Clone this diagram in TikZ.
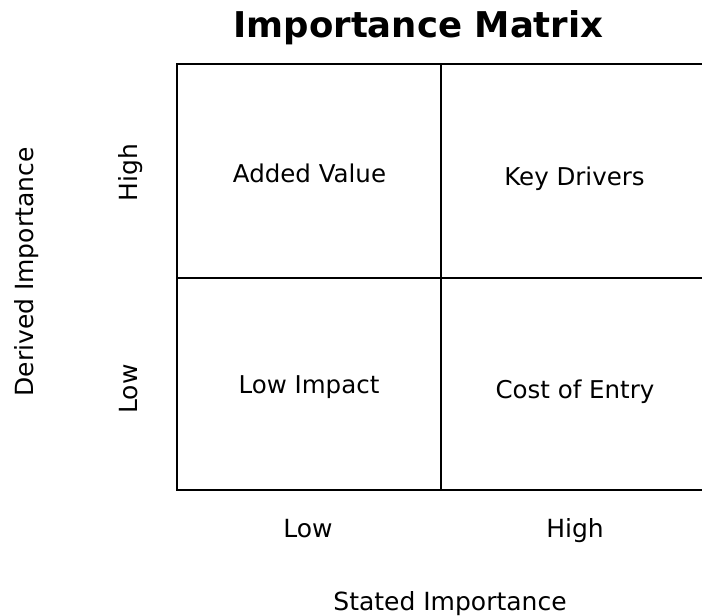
\documentclass[tikz,border=0pt]{standalone}
\usepackage{fontspec}
\setmainfont{DejaVu Sans}
\usetikzlibrary{positioning}

\begin{document}
\begin{tikzpicture}[x=1pt, y=-1pt,
        grid/.style={line width=2.3pt, line cap=rect},
        quad/.style={anchor=base, inner sep=0pt, font=\fontsize{24.5}{28}\selectfont},
        axis/.style={anchor=base, inner sep=0pt, font=\fontsize{25}{29}\selectfont},
        heading/.style={anchor=base, inner sep=0pt, font=\fontsize{35.5}{40}\selectfont\bfseries}]
        \useasboundingbox (0,0) rectangle (702,616);

        % corners of the matrix, open on the right
        \coordinate (TL) at (177,64);
        \coordinate (TR) at (702,64);
        \coordinate (BL) at (177,490);
        \coordinate (BR) at (702,490);
        \coordinate (TM) at (441,64);
        \coordinate (BM) at (441,490);
        \coordinate (ML) at (177,278);
        \coordinate (MR) at (702,278);

        \draw[grid] (TR) -- (TL) -- (BL) -- (BR);
        \draw[grid] (TM) -- (BM);
        \draw[grid] (ML) -- (MR);

        \node[heading] (title) at (418.5,37) {Importance Matrix};

        \node[quad] (AV) at (309.5,182) {Added Value};
        \node[quad] (KD) at (574.5,185) {Key Drivers};
        \node[quad] (LI) at (309,393) {Low Impact};
        \node[quad] (CE) at (575,398) {Cost of Entry};

        \node[axis] (xlow) at (308,537) {Low};
        \node[axis] (xhigh) at (575,537) {High};
        \node[axis] (xname) at (450,610) {Stated Importance};

        \node[axis, rotate=90] (yhigh) at (137,172.5) {High};
        \node[axis, rotate=90] (ylow) at (137,389) {Low};
        \node[axis, rotate=90] (yname) at (33,272) {Derived Importance};
    \end{tikzpicture}
\end{document}
